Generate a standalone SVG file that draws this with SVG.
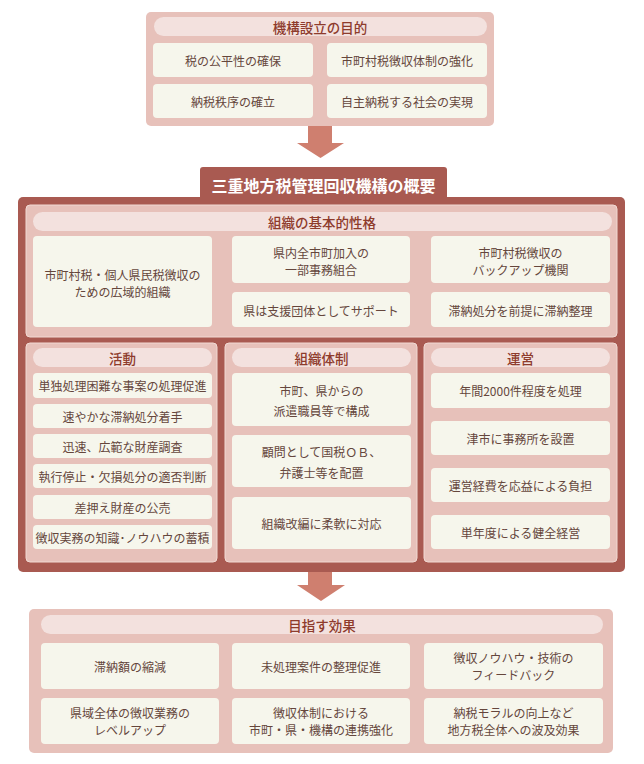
<svg xmlns="http://www.w3.org/2000/svg" width="644" height="764" viewBox="0 0 644 764">
<style>
text{font-family:"Noto Sans CJK JP","Noto Sans CJK SC",sans-serif;text-anchor:middle;dominant-baseline:central}
.box{fill:#e7c1ba;stroke:#f1d9d3;stroke-width:1}
.pill{fill:#f3e1de}
.cell{fill:#f6f6ec}
.hd{font-size:13.5px;fill:#8e3b2c;font-weight:500}
.tx{font-size:12px;fill:#65463c}
.arrow{fill:#cf7f6f}
</style>
<rect width="644" height="764" fill="#ffffff"/>

<g id="purpose">
<rect x="146" y="12" width="348" height="114" rx="5" fill="#e7c1ba"/>
<rect class="pill" x="154" y="17" width="333" height="19" rx="9.5"/>
<text class="hd" x="320" y="27">機構設立の目的</text>
<rect class="cell" x="153" y="43" width="160" height="34" rx="4"/>
<text class="tx" x="233" y="60">税の公平性の確保</text>
<rect class="cell" x="327" y="43" width="160" height="34" rx="4"/>
<text class="tx" x="407" y="60">市町村税徴収体制の強化</text>
<rect class="cell" x="153" y="84" width="160" height="34" rx="4"/>
<text class="tx" x="233" y="101">納税秩序の確立</text>
<rect class="cell" x="327" y="84" width="160" height="34" rx="4"/>
<text class="tx" x="407" y="101">自主納税する社会の実現</text>
</g>

<g id="connectors">
<path class="arrow" d="M308,126 H332 V143 H344 L320.5,158 L297,143 H308 Z"/>
<path class="arrow" d="M308,572 H332 V585 H345 L321,601 L297,585 H308 Z"/>
</g>

<g id="overview">
<rect x="200" y="167" width="247" height="34" rx="3" fill="#a95a51"/>
<rect x="18" y="197" width="607" height="375" rx="5" fill="#a95a51"/>
<text x="323.5" y="185" style="font-size:16px;font-weight:700;fill:#ffffff">三重地方税管理回収機構の概要</text>
</g>

<g id="nature">
<rect class="box" x="26" y="205" width="591" height="132" rx="4"/>
<rect class="pill" x="33" y="212" width="579" height="19" rx="9.5"/>
<text class="hd" x="322" y="222">組織の基本的性格</text>
<rect class="cell" x="33" y="236" width="179" height="91" rx="4"/>
<text class="tx" x="122.5" y="274">市町村税・個人県民税徴収の</text>
<text class="tx" x="122.5" y="291">ための広域的組織</text>
<rect class="cell" x="232" y="236" width="178" height="47" rx="4"/>
<text class="tx" x="321" y="252">県内全市町加入の</text>
<text class="tx" x="321" y="269">一部事務組合</text>
<rect class="cell" x="232" y="292" width="178" height="35" rx="4"/>
<text class="tx" x="321" y="310">県は支援団体としてサポート</text>
<rect class="cell" x="431" y="236" width="179" height="47" rx="4"/>
<text class="tx" x="520.5" y="252">市町村税徴収の</text>
<text class="tx" x="520.5" y="269">バックアップ機関</text>
<rect class="cell" x="431" y="292" width="179" height="35" rx="4"/>
<text class="tx" x="520.5" y="310">滞納処分を前提に滞納整理</text>
</g>

<g id="activity">
<rect class="box" x="26" y="343" width="191" height="219" rx="4"/>
<rect class="pill" x="33" y="348" width="179" height="19" rx="9.5"/>
<text class="hd" x="122.5" y="358">活動</text>
<rect class="cell" x="33" y="373" width="179" height="25" rx="4"/>
<text class="tx" x="122.5" y="385.5">単独処理困難な事案の処理促進</text>
<rect class="cell" x="33" y="404" width="179" height="24" rx="4"/>
<text class="tx" x="122.5" y="416">速やかな滞納処分着手</text>
<rect class="cell" x="33" y="434" width="179" height="24" rx="4"/>
<text class="tx" x="122.5" y="446">迅速、広範な財産調査</text>
<rect class="cell" x="33" y="464" width="179" height="24" rx="4"/>
<text class="tx" x="122.5" y="476">執行停止・欠損処分の適否判断</text>
<rect class="cell" x="33" y="495" width="179" height="24" rx="4"/>
<text class="tx" x="122.5" y="507">差押え財産の公売</text>
<rect class="cell" x="33" y="525" width="179" height="24" rx="4"/>
<text class="tx" x="122.5" y="537">徴収実務の知識･ノウハウの蓄積</text>
</g>

<g id="structure">
<rect class="box" x="225" y="343" width="192" height="219" rx="4"/>
<rect class="pill" x="232" y="348" width="179" height="19" rx="9.5"/>
<text class="hd" x="321.5" y="358">組織体制</text>
<rect class="cell" x="232" y="373" width="179" height="53" rx="4"/>
<text class="tx" x="321.5" y="390">市町、県からの</text>
<text class="tx" x="321.5" y="410">派遣職員等で構成</text>
<rect class="cell" x="232" y="435" width="179" height="52" rx="4"/>
<text class="tx" x="321.5" y="451">顧問として国税ＯＢ、</text>
<text class="tx" x="321.5" y="472">弁護士等を配置</text>
<rect class="cell" x="232" y="497" width="179" height="52" rx="4"/>
<text class="tx" x="321.5" y="523">組織改編に柔軟に対応</text>
</g>

<g id="operation">
<rect class="box" x="424" y="343" width="193" height="219" rx="4"/>
<rect class="pill" x="431" y="348" width="179" height="19" rx="9.5"/>
<text class="hd" x="520.5" y="358">運営</text>
<rect class="cell" x="431" y="373" width="179" height="35" rx="4"/>
<text class="tx" x="520.5" y="390.5">年間2000件程度を処理</text>
<rect class="cell" x="431" y="421" width="179" height="34" rx="4"/>
<text class="tx" x="520.5" y="438">津市に事務所を設置</text>
<rect class="cell" x="431" y="468" width="179" height="34" rx="4"/>
<text class="tx" x="520.5" y="485">運営経費を応益による負担</text>
<rect class="cell" x="431" y="515" width="179" height="34" rx="4"/>
<text class="tx" x="520.5" y="532">単年度による健全経営</text>
</g>

<g id="effects">
<rect x="29" y="609" width="584" height="144" rx="5" fill="#e7c1ba"/>
<rect class="pill" x="41" y="615" width="562" height="19" rx="9.5"/>
<text class="hd" x="322" y="625">目指す効果</text>
<rect class="cell" x="41" y="643" width="178" height="46" rx="4"/>
<text class="tx" x="130" y="666">滞納額の縮減</text>
<rect class="cell" x="232" y="643" width="178" height="46" rx="4"/>
<text class="tx" x="321" y="666">未処理案件の整理促進</text>
<rect class="cell" x="424" y="643" width="179" height="46" rx="4"/>
<text class="tx" x="513.5" y="657">徴収ノウハウ・技術の</text>
<text class="tx" x="513.5" y="674">フィードバック</text>
<rect class="cell" x="41" y="698" width="178" height="46" rx="4"/>
<text class="tx" x="130" y="712.5">県域全体の徴収業務の</text>
<text class="tx" x="130" y="729.5">レベルアップ</text>
<rect class="cell" x="232" y="698" width="178" height="46" rx="4"/>
<text class="tx" x="321" y="712.5">徴収体制における</text>
<text class="tx" x="321" y="729.5">市町・県・機構の連携強化</text>
<rect class="cell" x="424" y="698" width="179" height="46" rx="4"/>
<text class="tx" x="513.5" y="712.5">納税モラルの向上など</text>
<text class="tx" x="513.5" y="729.5">地方税全体への波及効果</text>
</g>
</svg>
